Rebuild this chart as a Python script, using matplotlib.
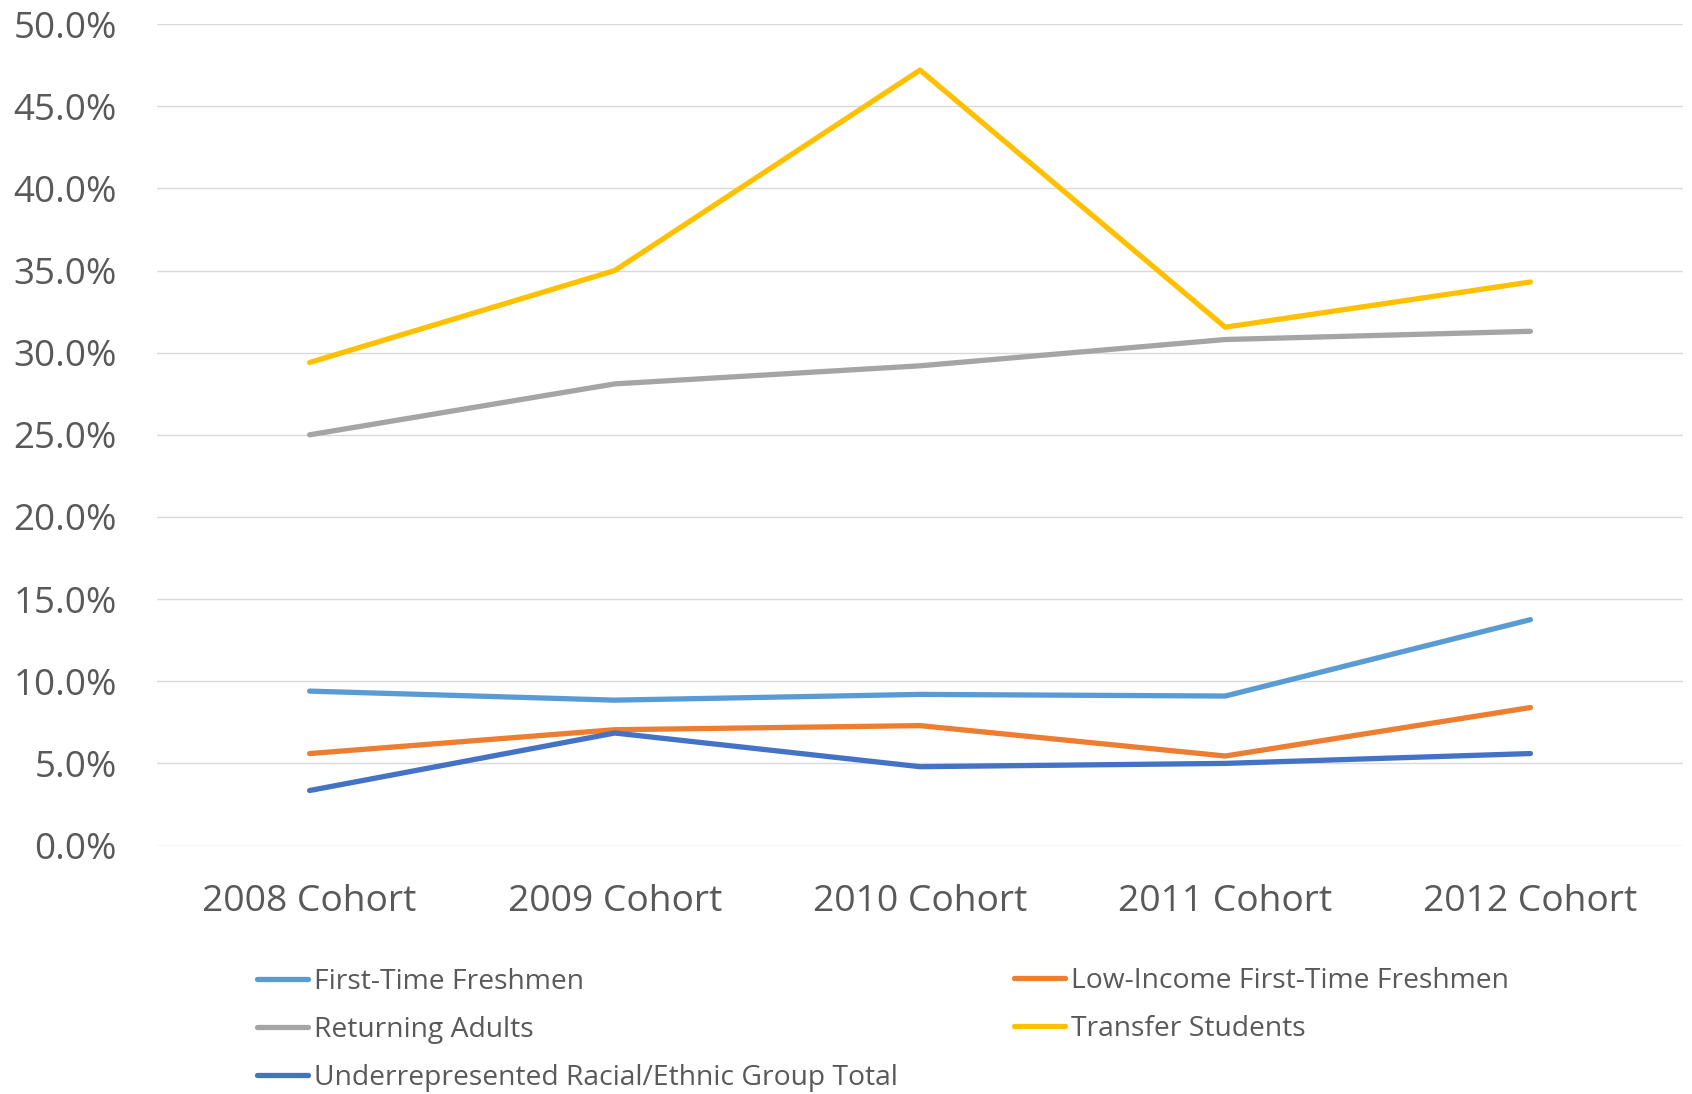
import matplotlib
matplotlib.use('Agg')
import matplotlib.pyplot as plt
from matplotlib.ticker import PercentFormatter

# Cohort persistence rates (%)
cohorts = ['2008 Cohort', '2009 Cohort', '2010 Cohort', '2011 Cohort', '2012 Cohort']
first_time = [9.4, 8.85, 9.2, 9.1, 13.75]
low_income = [5.6, 7.05, 7.3, 5.45, 8.4]
returning = [25.0, 28.1, 29.2, 30.8, 31.3]
transfer = [29.4, 35.0, 47.2, 31.55, 34.3]
urm = [3.35, 6.85, 4.8, 5.0, 5.6]

text_color = '#595959'
plt.rcParams['font.family'] = ['Open Sans', 'DejaVu Sans']

fig = plt.figure(figsize=(16.92, 10.94), dpi=100)
ax = fig.add_axes([0.0928, 0.2271, 0.9019, 0.7509])

x = range(len(cohorts))
lw = 3.8
l_ftf, = ax.plot(x, first_time, color='#5B9BD5', lw=lw, solid_capstyle='round', solid_joinstyle='round')
l_low, = ax.plot(x, low_income, color='#ED7D31', lw=lw, solid_capstyle='round', solid_joinstyle='round')
l_ret, = ax.plot(x, returning, color='#A5A5A5', lw=lw, solid_capstyle='round', solid_joinstyle='round')
l_tra, = ax.plot(x, transfer, color='#FFC000', lw=lw, solid_capstyle='round', solid_joinstyle='round')
l_urm, = ax.plot(x, urm, color='#4472C4', lw=lw, solid_capstyle='round', solid_joinstyle='round')

ax.set_xlim(-0.5, 4.5)
ax.set_ylim(0, 50)
ax.set_yticks(range(0, 51, 5))
ax.yaxis.set_major_formatter(PercentFormatter(decimals=1))
ax.set_xticks(list(x))
ax.set_xticklabels(cohorts)
ax.tick_params(axis='both', length=0, labelcolor=text_color)
ax.tick_params(axis='y', pad=29, labelsize=26.5)
ax.tick_params(axis='x', pad=28, labelsize=26.8)
ax.grid(axis='y', color='#D9D9D9', lw=1.0)
ax.set_axisbelow(True)
for s in ax.spines.values():
    s.set_visible(False)

leg_kw = dict(frameon=False, fontsize=20.3, handlelength=1.82, handletextpad=0.2,
              labelspacing=0.72, borderpad=0, borderaxespad=0, loc='center left',
              bbox_transform=fig.transFigure)
leg1 = ax.legend([l_ftf, l_ret, l_urm],
                 ['First-Time Freshmen', 'Returning Adults', 'Underrepresented Racial/Ethnic Group Total'],
                 bbox_to_anchor=(257 / 1692, 1 - 1030 / 1094), **leg_kw)
for t in leg1.get_texts():
    t.set_color(text_color)
ax.add_artist(leg1)
leg2 = ax.legend([l_low, l_tra],
                 ['Low-Income First-Time Freshmen', 'Transfer Students'],
                 bbox_to_anchor=(1014 / 1692, 1 - 1005 / 1094), **leg_kw)
for t in leg2.get_texts():
    t.set_color(text_color)

fig.savefig('out.png', dpi=100)
